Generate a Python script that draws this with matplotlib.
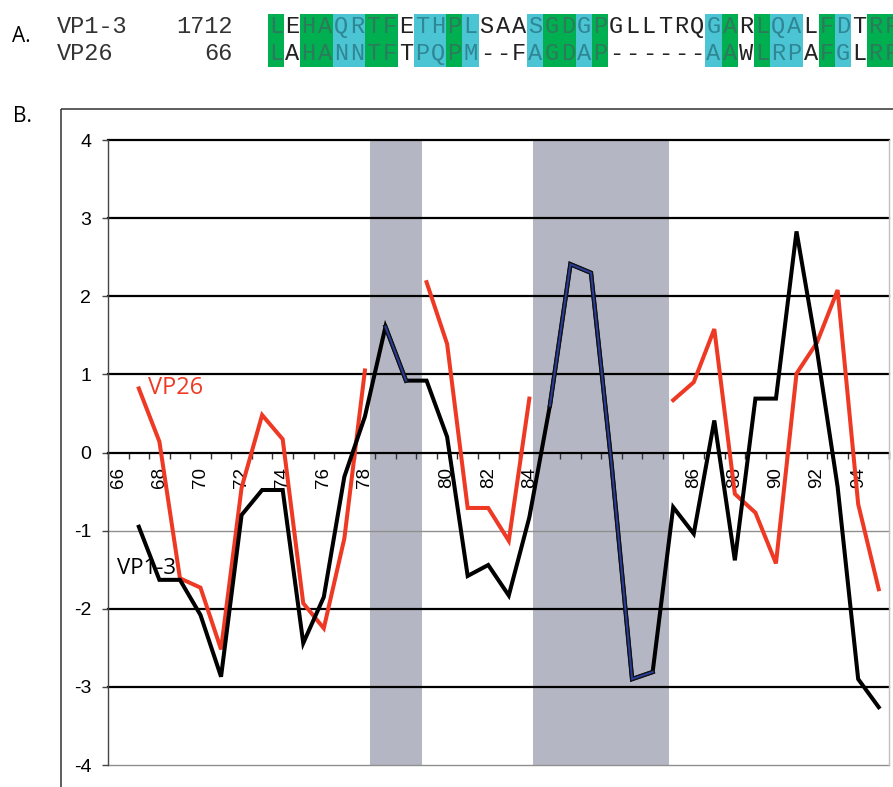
import numpy as np
import matplotlib
matplotlib.use("Agg")
import matplotlib.pyplot as plt
import matplotlib.patheffects as pe
from matplotlib.patches import Rectangle

nan = np.nan

# ---------------- data ----------------
seq_names = ["VP1-3", "VP26"]
seq_starts = ["1712", "66"]
seq_vp13 = "LEHAQRTFETHPLSAASGDGPGLLTRQGARLQALFDTRF"
seq_vp26 = "LAHANNTFTPQPM--FAGDAP------AAWLRPAFGLRF"
# g = identical (green), c = similar (cyan), - = none
highlight = "g-ggccgg-ccgc---cggcg------cg-gcc-gc-gg"

categories = ([str(v) for v in range(66, 79)] + ["", ""] +
              [str(v) for v in range(79, 85)] + [""] * 6 +
              [str(v) for v in range(85, 96)])

vp13 = [nan, -0.95, -1.63, -1.63, -2.08, -2.87, -0.80, -0.48, -0.48, -2.44,
        -1.85, -0.31, 0.46, 1.61, 0.92, 0.92, 0.20, -1.58, -1.44, -1.83,
        -0.83, 0.60, 2.41, 2.30, -0.15, -2.90, -2.81, -0.70, -1.04, 0.41,
        -1.38, 0.69, 0.69, 2.83, 1.30, -0.44, -2.90, -3.26]
vp26 = [nan, 0.82, 0.14, -1.61, -1.73, -2.52, -0.45, 0.48, 0.17, -1.93,
        -2.25, -1.10, 1.05, nan, nan, 2.18, 1.39, -0.71, -0.71, -1.13,
        0.69, nan, nan, nan, nan, nan, nan, 0.67, 0.90, 1.58,
        -0.53, -0.77, -1.42, 1.01, 1.41, 2.08, -0.66, -1.75]
yticks = [-4, -3, -2, -1, 0, 1, 2, 3, 4]
shade_spans = [(12.25, 14.8), (20.2, 26.8)]

# ---------------- figure ----------------
W, H = 893, 787
fig = plt.figure(figsize=(W / 100, H / 100), dpi=100)

# overlay in pixel coordinates for panel A, labels and frame
ov = fig.add_axes([0, 0, 1, 1], zorder=0)
ov.set_xlim(0, W)
ov.set_ylim(H, 0)
ov.axis("off")

GREEN = "#00b050"
CYAN = "#4bc5d3"
cw = 16.2
x0 = 268
rows = [(14, 39, 26.5), (39, 67, 53.5)]
mono = "Liberation Mono"
for r, (seq, name, start) in enumerate(zip([seq_vp13, seq_vp26], seq_names, seq_starts)):
    ytop, ybot, yc = rows[r]
    ov.text(57, yc, name, family=mono, fontsize=17, color="#333333",
            ha="left", va="center")
    ov.text(233, yc, start, family=mono, fontsize=17, color="#333333",
            ha="right", va="center")
    for k, ch in enumerate(seq):
        h = highlight[k]
        xl = x0 + k * cw
        col = "#222222"
        if h == "g":
            ov.add_patch(Rectangle((xl, ytop), cw, ybot - ytop, color=GREEN, lw=0))
            col = "#2d7a5c"
        elif h == "c":
            ov.add_patch(Rectangle((xl, ytop), cw, ybot - ytop, color=CYAN, lw=0))
            col = "#2f8795"
        ov.text(xl + cw / 2, yc, ch, family=mono, fontsize=17, color=col,
                ha="center", va="center")

ov.text(12, 36, "A.", family="Open Sans", fontsize=15, ha="left", va="center")
ov.text(13, 117, "B.", family="Open Sans", fontsize=15, ha="left", va="center")
ov.add_patch(Rectangle((61, 109), 1000, 1000, fill=False, ec="#333333", lw=1.1))

# ---------------- main chart ----------------
ax = fig.add_axes([108 / W, 22 / H, 781 / W, 625 / H], zorder=1)
ax.set_facecolor("white")
n = len(categories)
x = np.arange(n)
ax.set_xlim(-0.5, n - 0.5)
ax.set_ylim(-4, 4)

for a, b in shade_spans:
    ax.axvspan(a, b, color="#b4b6c3", lw=0, zorder=0.5)

for yv in yticks:
    if yv == 0:
        continue
    if yv in (-1, -4):
        ax.axhline(yv, color="#8f8f8f", lw=1.0, zorder=1, clip_on=False)
    else:
        ax.axhline(yv, color="black", lw=1.6, zorder=1, clip_on=False)

lw = 2.9
ax.plot(x, vp26, color="#ee3a24", lw=lw, zorder=3, solid_joinstyle="miter")
ax.plot(x, vp13, color="black", lw=lw, zorder=4, solid_joinstyle="miter")

# highlight VP1-3 segments over alignment gap columns in VP26
gap = np.array([c == "" for c in categories])
i = 0
while i < n:
    if gap[i]:
        j = i
        while j + 1 < n and gap[j + 1]:
            j += 1
        seg_x = x[i:j + 1]
        seg_y = np.array(vp13)[i:j + 1]
        ax.plot(seg_x, seg_y, color="#2a3d9a", lw=1.4, zorder=5,
                solid_joinstyle="miter",
                path_effects=[pe.Stroke(linewidth=3.2, foreground="#111111"),
                              pe.Normal()])
        i = j + 1
    else:
        i += 1

ax.text(1.45, 0.83, "VP26", color="#ee3a24", fontsize=17, family="Open Sans",
        ha="left", va="center", zorder=6)
ax.text(-0.05, -1.49, "VP1-3", color="black", fontsize=16, family="Open Sans",
        ha="left", va="center", zorder=6)

# spines
ax.spines["top"].set_visible(False)
ax.spines["right"].set_color("#c0c0c0")
ax.spines["right"].set_linewidth(1.0)
ax.spines["left"].set_color("#444444")
ax.spines["left"].set_linewidth(1.0)
ax.spines["bottom"].set_position(("data", 0))
ax.spines["bottom"].set_color("black")
ax.spines["bottom"].set_linewidth(1.6)
ax.spines["bottom"].set_zorder(2)

ax.set_yticks(yticks)
ax.set_yticklabels([str(v) for v in yticks], family="Liberation Sans", fontsize=14)
ax.tick_params(axis="y", direction="out", length=4, width=1, color="#444444", pad=8)

ax.set_xticks(x)
ax.set_xticklabels([c if k % 2 == 0 else "" for k, c in enumerate(categories)],
                   rotation=90, family="Liberation Sans", fontsize=13.5)
ax.set_xticks(np.arange(n + 1) - 0.5, minor=True)
ax.tick_params(axis="x", which="major", length=0, pad=10.5)
ax.tick_params(axis="x", which="minor", direction="out", length=4, width=1, color="#333333")

fig.savefig("out.png", dpi=100)
